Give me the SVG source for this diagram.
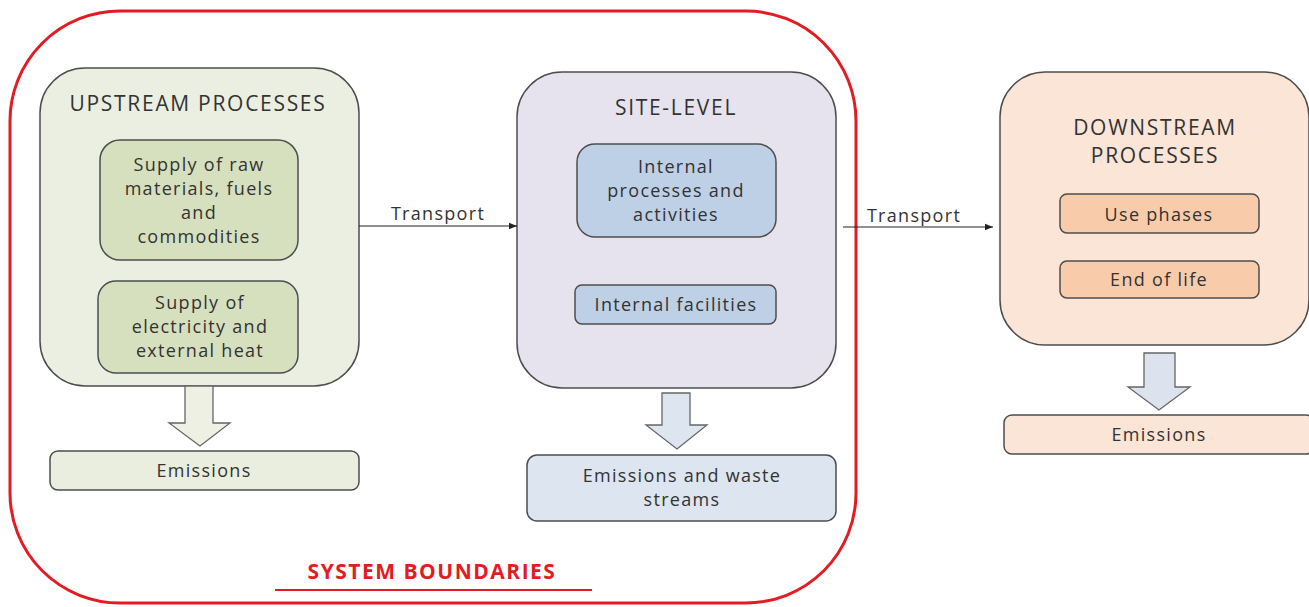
<svg xmlns="http://www.w3.org/2000/svg" width="1309" height="607" viewBox="0 0 1309 607">
<style>
text{font-family:"Open Sans","Liberation Sans",sans-serif;fill:#333;text-anchor:middle}
.t{font-size:21px;letter-spacing:1.7px}
.b{font-size:18px;letter-spacing:1.3px}
.box{stroke:#4d4d4d;stroke-width:1.5}
.big{stroke:#4d4d4d;stroke-width:1.5}
.blk{stroke:#666;stroke-width:1.3}
.ln{stroke:#222;stroke-width:1.2;fill:none}
</style>
<defs>
<marker id="ah" viewBox="0 0 10 10" refX="10" refY="5" markerWidth="8" markerHeight="8" markerUnits="userSpaceOnUse" orient="auto">
<path d="M0,1 L10,5 L0,9 z" fill="#222"/>
</marker>
</defs>
<rect width="1309" height="607" fill="#fff"/>
<g id="boundary">
<rect x="10" y="11" width="846" height="592" rx="110" ry="110" fill="none" stroke="#e31b23" stroke-width="3"/>
<text x="432" y="579" style="font-size:21px;font-weight:bold;letter-spacing:1.5px;fill:#e31b23">SYSTEM BOUNDARIES</text>
<line x1="275" y1="590" x2="592" y2="590" stroke="#e31b23" stroke-width="2"/>
</g>
<g id="upstream">
<rect class="big" x="40" y="68" width="319" height="318" rx="45" fill="#ebefe2"/>
<text class="t" x="198" y="111">UPSTREAM PROCESSES</text>
<rect class="box" x="100" y="140" width="198" height="120" rx="20" fill="#d6e0be"/>
<text class="b" x="199" y="171">Supply of raw</text>
<text class="b" x="199" y="195">materials, fuels</text>
<text class="b" x="199" y="219">and</text>
<text class="b" x="199" y="243">commodities</text>
<rect class="box" x="98" y="281" width="200" height="92" rx="18" fill="#d6e0be"/>
<text class="b" x="200" y="309">Supply of</text>
<text class="b" x="200" y="333">electricity and</text>
<text class="b" x="200" y="357">external heat</text>
</g>
<g id="upstream-emissions">
<polygon class="blk" points="185,386 213,386 213,423 230,423 200,446 169,423 185,423" fill="#eef0e4"/>
<rect class="box" x="50" y="451" width="309" height="39" rx="8" fill="#e9eedf"/>
<text class="b" x="204" y="477">Emissions</text>
</g>
<g id="site">
<rect class="big" x="517" y="72" width="319" height="316" rx="45" fill="#e7e3ee"/>
<text class="t" x="676" y="115">SITE-LEVEL</text>
<rect class="box" x="577" y="144" width="199" height="93" rx="18" fill="#bdd0e6"/>
<text class="b" x="676" y="173">Internal</text>
<text class="b" x="676" y="197">processes and</text>
<text class="b" x="676" y="221">activities</text>
<rect class="box" x="575" y="285" width="201" height="39" rx="7" fill="#bdd0e6"/>
<text class="b" x="676" y="311">Internal facilities</text>
</g>
<g id="site-emissions">
<polygon class="blk" points="662,393 690,393 690,425 707,425 677,449 646,425 662,425" fill="#dce5f0"/>
<rect class="box" x="527" y="455" width="309" height="66" rx="10" fill="#dce5f0"/>
<text class="b" x="682" y="482">Emissions and waste</text>
<text class="b" x="682" y="506">streams</text>
</g>
<g id="downstream">
<rect class="big" x="1000" y="72" width="309" height="273" rx="45" fill="#fbe5d6"/>
<text class="t" x="1155" y="135">DOWNSTREAM</text>
<text class="t" x="1155" y="163">PROCESSES</text>
<rect class="box" x="1060" y="194" width="199" height="39" rx="7" fill="#f8cbab"/>
<text class="b" x="1159" y="221">Use phases</text>
<rect class="box" x="1060" y="261" width="199" height="37" rx="7" fill="#f8cbab"/>
<text class="b" x="1159" y="286">End of life</text>
</g>
<g id="downstream-emissions">
<polygon class="blk" points="1144,353 1175,353 1175,387 1190,387 1159,410 1128,387 1144,387" fill="#dce3ef"/>
<rect class="box" x="1004" y="415" width="310" height="39" rx="8" fill="#fbe5d6"/>
<text class="b" x="1159" y="441">Emissions</text>
</g>
<g id="connectors">
<line class="ln" x1="359" y1="226" x2="517" y2="226" marker-end="url(#ah)"/>
<text class="b" x="438" y="220">Transport</text>
<line class="ln" x1="843" y1="227" x2="993" y2="227" marker-end="url(#ah)"/>
<text class="b" x="914" y="222">Transport</text>
</g>
</svg>
